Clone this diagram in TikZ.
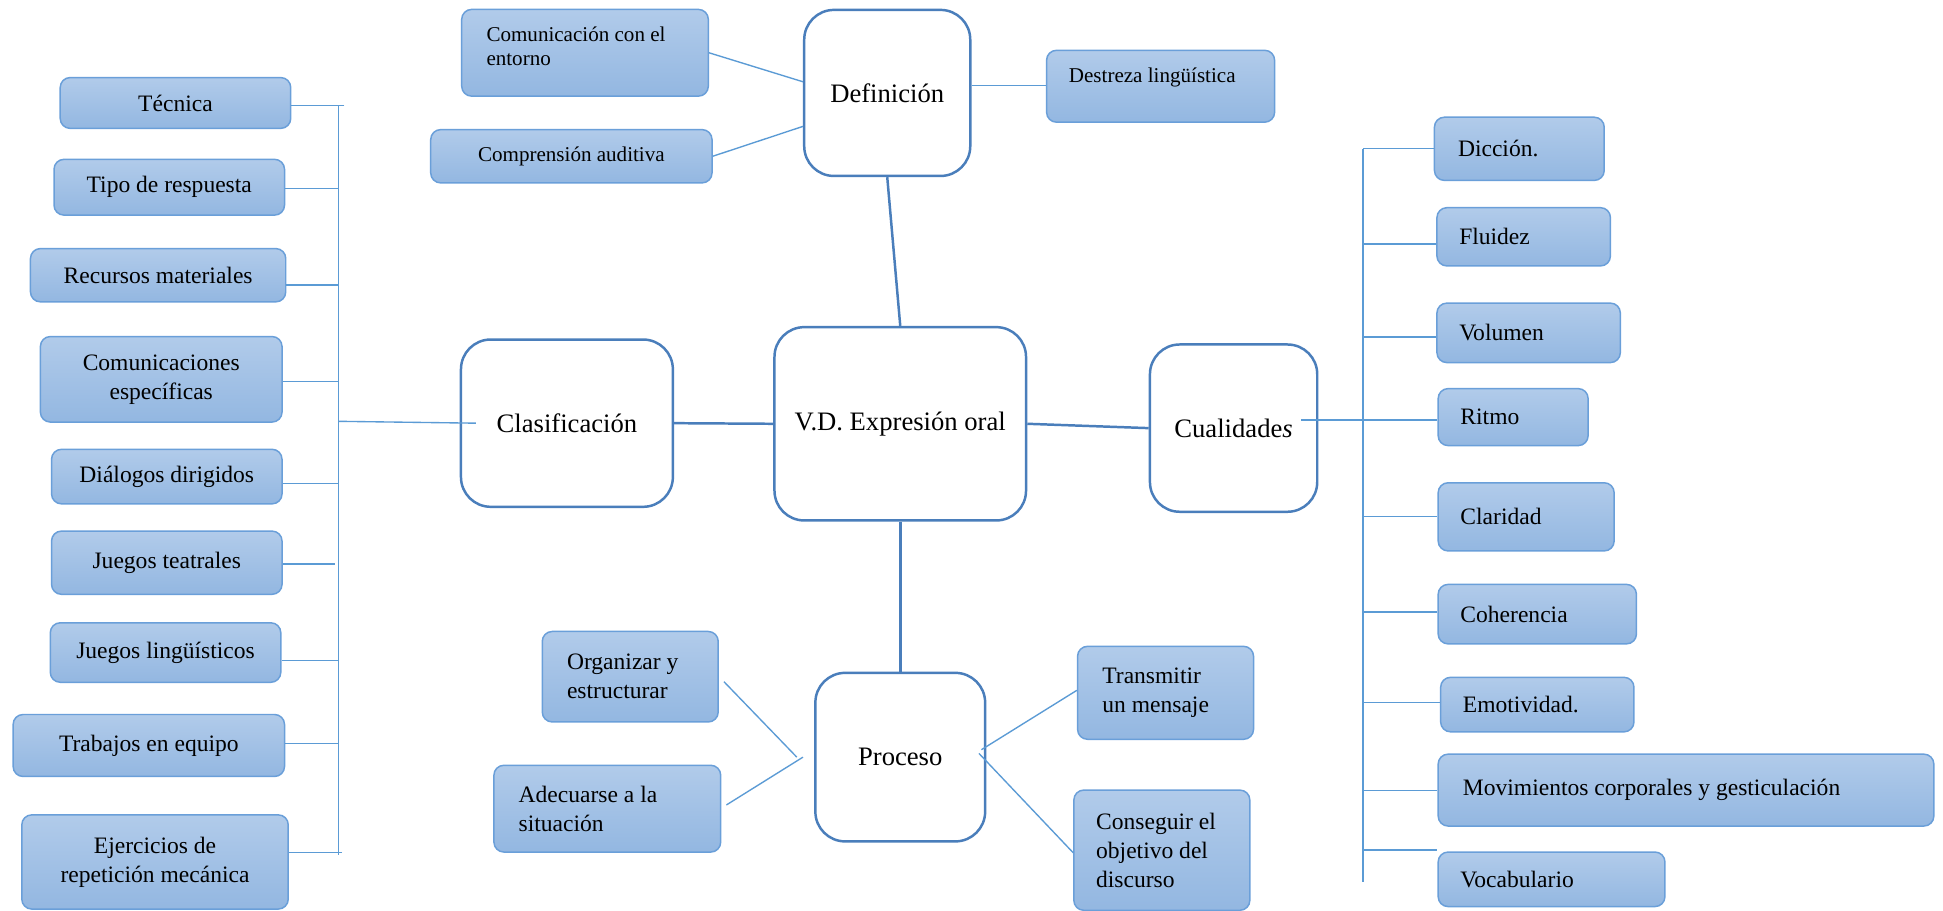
\documentclass[tikz,border=0pt]{standalone}
\usepackage{fontspec}
\setmainfont{Liberation Serif}
\definecolor{boxtop}{HTML}{B1CBEA}
\definecolor{boxbot}{HTML}{93B7E1}
\definecolor{boxline}{HTML}{6A9FD9}
\definecolor{bigline}{HTML}{4A7EBB}
\definecolor{conn}{HTML}{5B9BD5}
\tikzset{
  sbox/.style={draw=boxline, line width=1.2pt, rounded corners=8pt, top color=boxtop, bottom color=boxbot,
    inner sep=0pt, anchor=north west, align=center, font=\fontsize{19}{23.5}\selectfont},
  lbox/.style={sbox, align=flush left},
  tbox/.style={sbox, font=\fontsize{17}{19.5}\selectfont},
  bbox/.style={draw=bigline, line width=2pt, rounded corners=24pt, fill=white, inner sep=0pt,
    anchor=north west, align=center, font=\fontsize{21.5}{26}\selectfont},
  cline/.style={draw=conn, line width=1.1pt},
  mline/.style={draw=bigline, line width=2pt},
}
\begin{document}
\begin{tikzpicture}[x=1pt,y=-1pt]
\useasboundingbox[fill=white] (0,0) rectangle (1568,735);

% central nodes
\node[bbox, minimum width=134pt, minimum height=134pt] (def) at (648,7) {Definición};
\node[bbox, minimum width=171pt, minimum height=135pt] (clas) at (371,273) {Clasificación};
\node[bbox, minimum width=203pt, minimum height=156pt] (vd) at (624,263) {V.D. Expresión oral};
\node[bbox, minimum width=135pt, minimum height=135pt] (cual) at (927,277) {Cualidade\textit{s}};
\node[bbox, minimum width=137pt, minimum height=136pt] (proc) at (657,542) {Proceso};

% definition children
\node[tbox, align=flush left, text width=159pt, inner xsep=20pt, minimum height=70pt] (com) at (372,7) {Comunicación con el\\entorno\\[-9pt]\mbox{}};
\node[tbox, minimum width=227pt, minimum height=43pt] (comp) at (347,104) {Comprensión auditiva};
\node[tbox, align=flush left, text width=148pt, inner xsep=18pt, minimum height=58pt, text height=12pt, text depth=18pt] (des) at (844,40) {Destreza lingüística};

% left column
\node[sbox, minimum width=186pt, minimum height=41pt] (tec) at (48,62) {Técnica};
\node[sbox, minimum width=186pt, minimum height=45pt] (tip) at (43,128) {Tipo de respuesta};
\node[sbox, minimum width=206pt, minimum height=43pt] (rec) at (24,200) {Recursos materiales};
\node[sbox, minimum width=195pt, minimum height=69pt] (comu) at (32,271) {Comunicaciones\\específicas};
\node[sbox, minimum width=186pt, minimum height=44pt] (dia) at (41,362) {Diálogos dirigidos};
\node[sbox, minimum width=186pt, minimum height=51pt] (jte) at (41,428) {Juegos teatrales};
\node[sbox, minimum width=186pt, minimum height=48pt] (jli) at (40,502) {Juegos lingüísticos};
\node[sbox, minimum width=219pt, minimum height=50pt] (trab) at (10,576) {Trabajos en equipo};
\node[sbox, minimum width=215pt, minimum height=76pt] (eje) at (17,657) {Ejercicios de\\repetición mecánica};

% right column
\node[lbox, text width=99pt, inner xsep=19pt, minimum height=51pt] (dic) at (1157,94) {Dicción.};
\node[lbox, text width=104pt, inner xsep=18pt, minimum height=47pt] (flu) at (1159,167) {Fluidez};
\node[lbox, text width=112pt, inner xsep=18pt, minimum height=48pt] (vol) at (1159,244) {Volumen};
\node[lbox, text width=85pt, inner xsep=18pt, minimum height=46pt] (rit) at (1160,313) {Ritmo};
\node[lbox, text width=106pt, inner xsep=18pt, minimum height=55pt] (cla) at (1160,389) {Claridad};
\node[lbox, text width=124pt, inner xsep=18pt, minimum height=48pt] (coh) at (1160,471) {Coherencia};
\node[lbox, text width=120pt, inner xsep=18pt, minimum height=44pt] (emo) at (1162,546) {Emotividad.};
\node[lbox, text width=360pt, inner xsep=20pt, minimum height=58pt] (mov) at (1160,608) {Movimientos corporales y gesticulación};
\node[lbox, text width=147pt, inner xsep=18pt, minimum height=44pt] (voc) at (1160,687) {Vocabulario};

% process children
\node[lbox, text width=102pt, inner xsep=20pt, minimum height=73pt] (org) at (437,509) {Organizar y\\estructurar};
\node[lbox, text width=143pt, inner xsep=20pt, minimum height=70pt] (ade) at (398,617) {Adecuarse a la\\situación};
\node[lbox, text width=102pt, inner xsep=20pt, minimum height=75pt] (tms) at (869,521) {Transmitir\\un mensaje};
\node[lbox, text width=106pt, inner xsep=18pt, minimum height=97pt] (cons) at (866,637) {Conseguir el\\objetivo del\\discurso};

% main connectors
\draw[mline] (clas.east) -- (vd.west);
\draw[mline] (vd.east) -- (cual.west);
\draw[mline] (def.south) -- (vd.north);
\draw[mline] (vd.south) -- (proc.north);

% definition connectors
\draw[cline] (com.east) -- ([yshift=9pt]def.west);
\draw[cline] (comp.east) -- ([yshift=-27pt]def.west);
\draw[cline] ([yshift=6pt]def.east) -- ([yshift=6pt]def.east -| des.west);

% left trunk
\coordinate (ltop) at (273,85);
\coordinate (lbot) at (273,690);
\coordinate (lmid) at (273,340);
\draw[cline] (ltop) -- (lbot);
\draw[cline] (lmid) -- ([xshift=13pt]clas.west);
\draw[cline] (278,85) -- (278,85 -| tec.east);
\foreach \n/\yy in {tip/152, rec/230, comu/308, dia/390, jli/533, trab/600}
  \draw[cline] (273,\yy) -- (273,\yy -| \n.east);
\draw[cline] (270,455) -- (270,455 -| jte.east);
\draw[cline] (276,688) -- (276,688 -| eje.east);

% right trunk
\coordinate (rtop) at (1100,120);
\coordinate (rbot) at (1100,712);
\draw[cline] (rtop) -- (rbot);
\coordinate (cq) at (1050,339);
\draw[cline] (cq) -- (cq -| rit.west);
\foreach \n/\yy in {dic/120, flu/197, vol/272, cla/417, coh/494, emo/567, mov/638}
  \draw[cline] (1100,\yy) -- (1100,\yy -| \n.west);
\draw[cline] (1100,686) -- (1100,686 -| voc.west);

% process connectors
\draw[cline] ([xshift=4pt,yshift=-4pt]org.east) -- ([xshift=-14pt]proc.west);
\draw[cline] ([xshift=4pt,yshift=3pt]ade.east) -- ([xshift=-9pt]proc.west);
\draw[cline] ([xshift=-4pt,yshift=6pt]proc.east) -- ([yshift=2pt]tms.west);
\draw[cline] ([xshift=-6pt,yshift=3pt]proc.east) -- ([yshift=-2pt]cons.west);
\end{tikzpicture}
\end{document}
